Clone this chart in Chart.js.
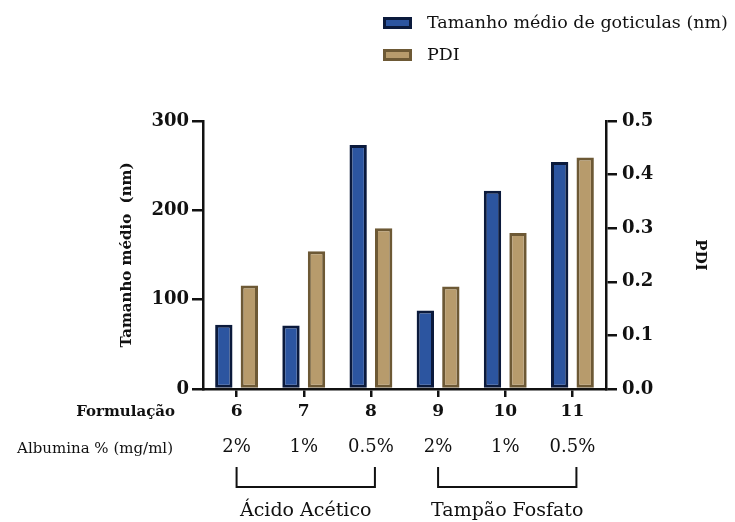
<!DOCTYPE html>
<html lang="pt">
<head>
<meta charset="UTF-8">
<title>Tamanho médio e PDI</title>
<script src="https://cdn.jsdelivr.net/npm/chart.js"></script>
<style>
  html, body { margin: 0; padding: 0; background: #fff; }
</style>
</head>
<body>
<canvas id="grafico" width="735" height="522"></canvas>
<script>
const formulacoes = ["6", "7", "8", "9", "10", "11"];
const albumina = ["2%", "1%", "0.5%", "2%", "1%", "0.5%"];
const grupos = [
  { nome: "Ácido Acético", de: 0, ate: 2 },
  { nome: "Tampão Fosfato", de: 3, ate: 5 }
];
const tamanho = [72, 71, 273, 88, 222, 254];
const pdi = [0.193, 0.257, 0.300, 0.191, 0.291, 0.432];
const ticksTamanho = [0, 100, 200, 300];
const ticksPdi = [0, 0.1, 0.2, 0.3, 0.4, 0.5];

const AZUL = "#2c55a0", AZUL_BORDA = "#0b1a3c";
const BEGE = "#b79b6c", BEGE_BORDA = "#6d5935";
const SERIF = "'DejaVu Serif', 'Liberation Serif', serif";

// legenda, linhas de rótulos por baixo do eixo e chavetas dos grupos
const extras = {
  id: "extras",
  afterDraw(chart) {
    const ctx = chart.ctx;
    const x = chart.scales.x;
    ctx.save();
    ctx.fillStyle = "#111";

    // legenda
    const leg = [
      { txt: "Tamanho médio de goticulas (nm)", cor: AZUL, borda: AZUL_BORDA, y: 23 },
      { txt: "PDI", cor: BEGE, borda: BEGE_BORDA, y: 55 }
    ];
    leg.forEach(l => {
      ctx.fillStyle = l.borda;
      ctx.fillRect(383, l.y - 6, 29, 12);
      ctx.fillStyle = l.cor;
      ctx.fillRect(386, l.y - 3, 23, 6);
      ctx.fillStyle = "#111";
      ctx.font = "17.5px " + SERIF;
      ctx.textAlign = "left";
      ctx.textBaseline = "middle";
      ctx.fillText(l.txt, 427, l.y);
    });

    // linhas de rótulos
    ctx.textAlign = "right";
    ctx.font = "bold 15px " + SERIF;
    ctx.fillText("Formulação", 175, 412);
    ctx.font = "15px " + SERIF;
    ctx.fillText("Albumina % (mg/ml)", 173, 449);

    ctx.textAlign = "center";
    formulacoes.forEach((f, i) => {
      const px = x.getPixelForValue(i);
      ctx.font = "bold 17px " + SERIF;
      ctx.fillText(f, px, 412);
      ctx.font = "18px " + SERIF;
      ctx.fillText(albumina[i], px, 447);
    });

    // chavetas
    ctx.strokeStyle = "#111";
    ctx.lineWidth = 2;
    grupos.forEach(g => {
      const x0 = x.getPixelForValue(g.de);
      const x1 = x.getPixelForValue(g.ate) + 4;
      ctx.beginPath();
      ctx.moveTo(x0, 467);
      ctx.lineTo(x0, 487);
      ctx.lineTo(x1, 487);
      ctx.lineTo(x1, 467);
      ctx.stroke();
      ctx.font = "19px " + SERIF;
      ctx.fillText(g.nome, (x0 + x1) / 2, 511);
    });
    ctx.restore();
  }
};

new Chart(document.getElementById("grafico"), {
  type: "bar",
  data: {
    labels: formulacoes,
    datasets: [
      {
        label: "Tamanho médio de goticulas (nm)",
        data: tamanho,
        backgroundColor: AZUL,
        borderColor: AZUL_BORDA,
        borderWidth: 3,
        borderSkipped: false,
        yAxisID: "y",
        categoryPercentage: 0.76,
        barPercentage: 0.68
      },
      {
        label: "PDI",
        data: pdi,
        backgroundColor: BEGE,
        borderColor: BEGE_BORDA,
        borderWidth: 3,
        borderSkipped: false,
        yAxisID: "y1",
        categoryPercentage: 0.76,
        barPercentage: 0.68
      }
    ]
  },
  options: {
    responsive: false,
    animation: false,
    devicePixelRatio: 1,
    layout: { padding: { top: 121, left: 114, right: 22, bottom: 0 } },
    plugins: { legend: { display: false }, tooltip: { enabled: false } },
    scales: {
      x: {
        offset: true,
        grid: { offset: false, drawOnChartArea: false, drawTicks: true, tickLength: 8, color: "#111", lineWidth: 2.5 },
        border: { color: "#111", width: 2.5 },
        ticks: { display: false },
        afterFit(s) { s.height = 133; }
      },
      y: {
        position: "left",
        min: 0, max: 300,
        afterBuildTicks(s) { s.ticks = ticksTamanho.map(v => ({ value: v })); },
        grid: { drawOnChartArea: false, tickLength: 11, color: "#111", lineWidth: 2.5 },
        border: { color: "#111", width: 2.5 },
        ticks: { color: "#111", padding: 3, font: { family: SERIF, size: 18, weight: "bold" } },
        title: { display: true, text: "Tamanho médio  (nm)", color: "#111", padding: 4, font: { family: SERIF, size: 15, weight: "bold" } },
        afterFit(s) { s.width = 89; }
      },
      y1: {
        position: "right",
        min: 0, max: 0.5,
        afterBuildTicks(s) { s.ticks = ticksPdi.map(v => ({ value: v })); },
        grid: { drawOnChartArea: false, tickLength: 11, color: "#111", lineWidth: 2.5 },
        border: { color: "#111", width: 2.5 },
        ticks: { color: "#111", padding: 5, font: { family: SERIF, size: 18, weight: "bold" }, callback: v => v.toFixed(1) },
        title: { display: true, text: "PDI", color: "#111", padding: 4, font: { family: SERIF, size: 15, weight: "bold" } },
        afterFit(s) { s.width = 107; }
      }
    }
  },
  plugins: [extras]
});
</script>
</body>
</html>
